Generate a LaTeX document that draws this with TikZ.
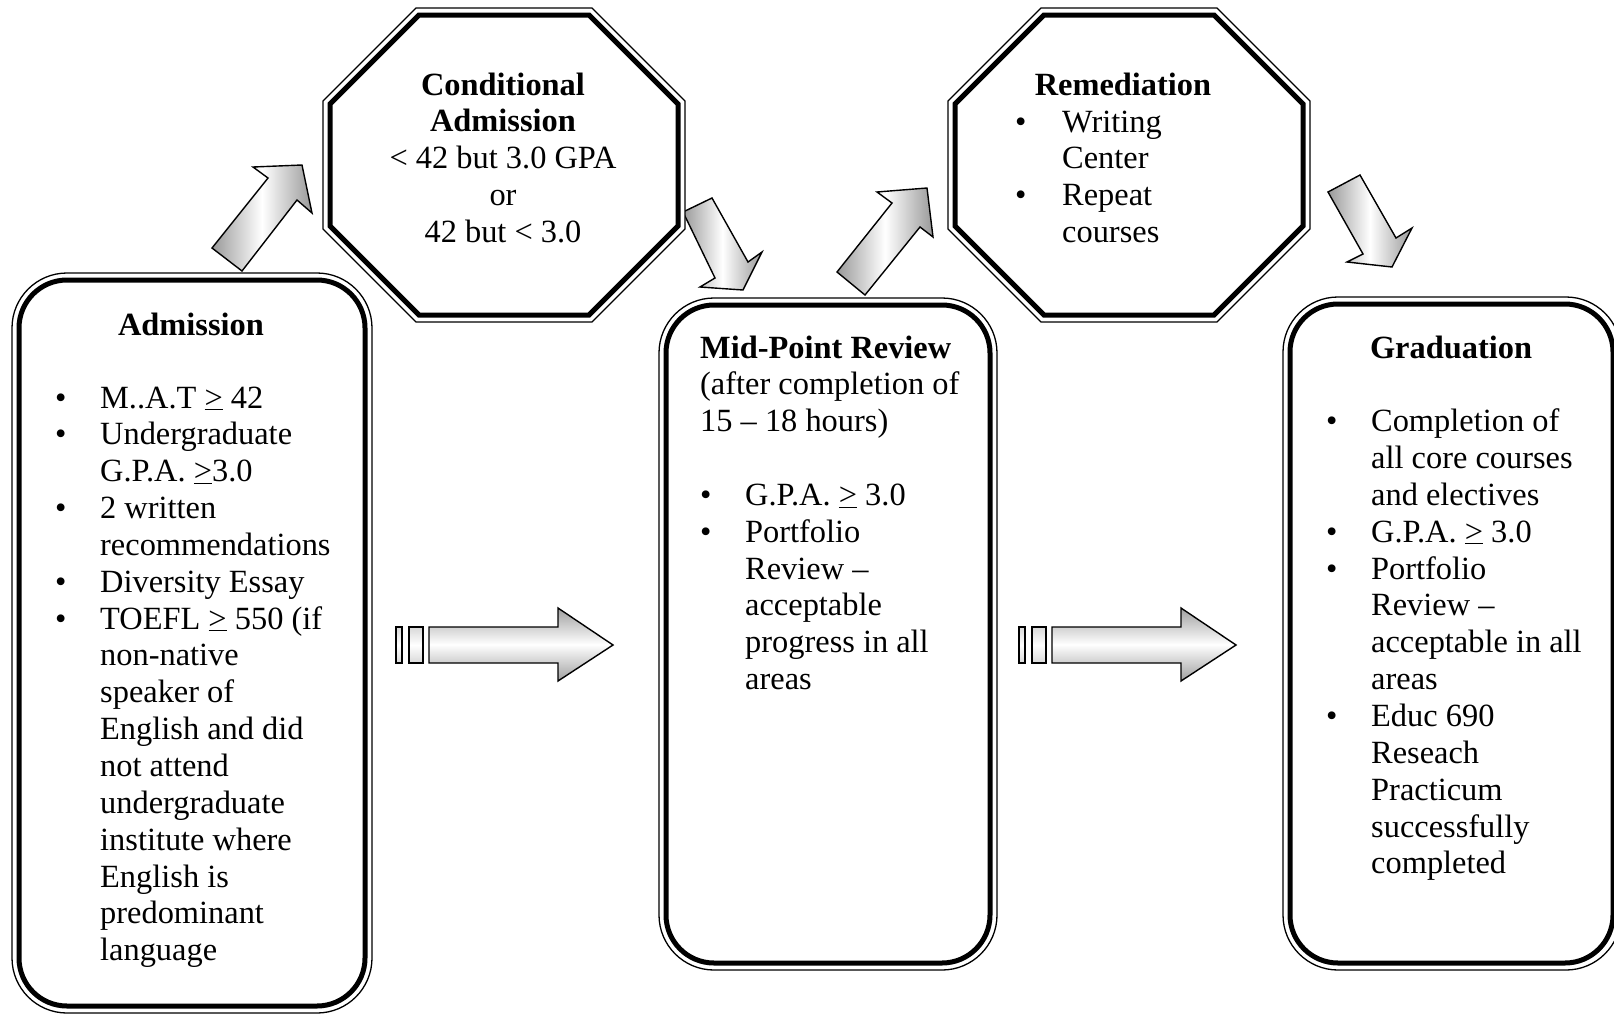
\documentclass[tikz,border=0pt]{standalone}
\usepackage{fontspec}
\setmainfont{Liberation Serif}
\newcommand\itembul{\makebox[45pt][l]{\textbullet}}
\newcommand\itembulr{\makebox[47pt][l]{\textbullet}}
\tikzset{
  thinb/.style={line width=1.3pt},
  thickb/.style={line width=5pt, line join=miter},
  diagarrow/.style={draw=black, line width=1.4pt, line join=miter, left color=gray!80, right color=gray!80, middle color=white},
  stripearrow/.style={draw=black, line width=1.4pt, line join=miter, top color=gray!75, bottom color=gray!75, middle color=white},
  stripebar/.style={draw=black, line width=1.4pt, top color=gray!30, bottom color=gray!30, middle color=white},
  headtxt/.style={font=\fontsize{32.4}{36.85}\selectfont\bfseries, inner sep=0, anchor=base},
  bodytxt/.style={font=\fontsize{32.4}{36.85}\selectfont, inner sep=0, anchor=base west},
}
\begin{document}
\begin{tikzpicture}[x=1pt,y=-1pt]
\useasboundingbox (0,0) rectangle (1614,1015);
\clip (0,0) rectangle (1614,1015);

% diagonal arrows
\draw[diagarrow] (212,248) -- (268,178) -- (253,167) -- (302,165) -- (312,213) -- (297,200) -- (242,271) -- cycle;
\draw[diagarrow] (683,212) -- (712,198) -- (748,262) -- (762,252) -- (743,290) -- (700,287) -- (715,278) -- cycle;
\draw[diagarrow] (837,272) -- (892,203) -- (877,192) -- (927,188) -- (933,237) -- (920,227) -- (865,295) -- cycle;
\draw[diagarrow] (1328,192) -- (1360,175) -- (1396,238) -- (1412,228) -- (1392,267) -- (1347,262) -- (1363,254) -- cycle;

% striped arrows
\foreach \dx in {0,623}{
  \begin{scope}[xshift=\dx pt]
  \draw[stripebar] (396,627) rectangle (402,663);
  \draw[stripebar] (409,627) rectangle (423,663);
  \draw[stripearrow] (429,627) -- (558,627) -- (558,608) -- (613,645) -- (558,681) -- (558,663) -- (429,663) -- cycle;
  \end{scope}
}

% Admission box
\draw[thinb, fill=white, rounded corners=55pt] (12,273) rectangle (372,1013);
\draw[thickb, rounded corners=48pt] (19,280) rectangle (365,1006);
% Mid-point box
\draw[thinb, fill=white, rounded corners=55pt] (659,298) rectangle (997,970);
\draw[thickb, rounded corners=48pt] (666,305) rectangle (990,963);
% Graduation box
\draw[thinb, fill=white, rounded corners=55pt] (1283,297) rectangle (1621,970);
\draw[thickb, rounded corners=48pt] (1290,304) rectangle (1613,963);

% Conditional octagon
\draw[thinb, fill=white, line join=miter] (416,8) -- (592,8) -- (685,101) -- (685,229) -- (592,322) -- (416,322) -- (323,229) -- (323,101) -- cycle;
\draw[thickb] (419,15) -- (589,15) -- (678,104) -- (678,226) -- (589,315) -- (419,315) -- (330,226) -- (330,104) -- cycle;
% Remediation octagon
\draw[thinb, fill=white, line join=miter] (1041,8) -- (1217,8) -- (1310,101) -- (1310,229) -- (1217,322) -- (1041,322) -- (948,229) -- (948,101) -- cycle;
\draw[thickb] (1044,15) -- (1214,15) -- (1303,104) -- (1303,226) -- (1214,315) -- (1044,315) -- (955,226) -- (955,104) -- cycle;

% texts
\node[headtxt] (condtxt) at (503,95) {\begin{tabular}[t]{@{}c@{}}Conditional\\Admission\\\mdseries \textless{} 42 but 3.0 GPA\\\mdseries or\\\mdseries 42 but \textless{} 3.0\end{tabular}};

\node[headtxt] (remhead) at (1123,95) {Remediation};
\node[bodytxt] (remtxt) at (1015,132) {\begin{tabular}[t]{@{}l@{}l@{}}
\itembulr & Writing\\
 & Center\\
\itembulr & Repeat\\
 & courses
\end{tabular}};

\node[headtxt] (admhead) at (191,335) {Admission};
\node[bodytxt] (admtxt) at (55,408) {\begin{tabular}[t]{@{}l@{}l@{}}
\itembul & M..A.T \underline{>} 42\\
\itembul & Undergraduate\\
 & G.P.A. \underline{>}3.0\\
\itembul & 2 written\\
 & recommendations\\
\itembul & Diversity Essay\\
\itembul & TOEFL \underline{>} 550 (if\\
 & non-native\\
 & speaker of\\
 & English and did\\
 & not attend\\
 & undergraduate\\
 & institute where\\
 & English is\\
 & predominant\\
 & language
\end{tabular}};

\node[bodytxt] (midtxt) at (700,358) {\begin{tabular}[t]{@{}l@{}l@{}}
\multicolumn{2}{@{}l@{}}{\textbf{Mid-Point Review}}\\
\multicolumn{2}{@{}l@{}}{(after completion of}\\
\multicolumn{2}{@{}l@{}}{15 – 18 hours)}\\
 & \\
\itembul & G.P.A. \underline{>} 3.0\\
\itembul & Portfolio\\
 & Review –\\
 & acceptable\\
 & progress in all\\
 & areas
\end{tabular}};

\node[headtxt] (gradhead) at (1451,358) {Graduation};
\node[bodytxt] (gradtxt) at (1326,431.7) {\begin{tabular}[t]{@{}l@{}l@{}}
\itembul & Completion of\\
 & all core courses\\
 & and electives\\
\itembul & G.P.A. \underline{>} 3.0\\
\itembul & Portfolio\\
 & Review –\\
 & acceptable in all\\
 & areas\\
\itembul & Educ 690\\
 & Reseach\\
 & Practicum\\
 & successfully\\
 & completed
\end{tabular}};
\end{tikzpicture}
\end{document}
